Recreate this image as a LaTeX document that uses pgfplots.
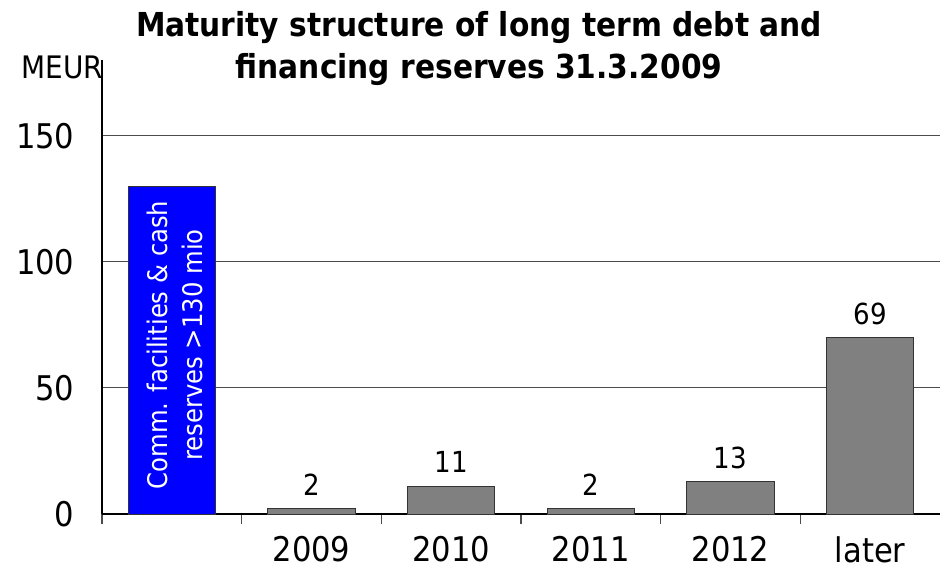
\documentclass[border=0pt]{standalone}
\usepackage{pgfplots}
\pgfplotsset{compat=1.18}
\usepackage{fontspec}
\setmainfont{DejaVu Sans Condensed}
\definecolor{barblue}{RGB}{0,0,255}
\definecolor{bargray}{RGB}{128,128,128}
\begin{document}
\begin{tikzpicture}
\begin{axis}[
  name=ax,
  scale only axis, width=419pt, height=227pt,
  xmin=-0.5, xmax=5.5, ymin=0, ymax=180,
  axis x line*=bottom, axis y line*=left,
  axis line style={-, black, line width=0.6pt},
  ybar, bar width=43.5pt,
  xtick={0,...,5}, xticklabels={,2009,2010,2011,2012,later},
  major x tick style={draw=none},
  minor xtick={-0.5,0.5,1.5,2.5,3.5,4.5},
  minor tick length=5pt, tick align=outside,
  minor x tick style={black!70, line width=0.6pt},
  ytick={0,50,100,150},
  major y tick style={draw=none},
  ymajorgrids, grid style={black!70, line width=0.6pt},
  /pgf/number format/assume math mode=true,
  ticklabel style={font=\fontsize{17}{20}\selectfont},
  yticklabel style={xshift=-6pt},
  xticklabel style={yshift=-3.5pt},
  clip=false,
]
\addplot[bar shift=0pt, fill=barblue, draw=black!80, line width=0.5pt] coordinates {(0,130)};
\addplot[bar shift=0pt, fill=bargray, draw=black!80, line width=0.5pt,
  nodes near coords, point meta=explicit symbolic,
  nodes near coords style={font=\fontsize{14.5}{16}\selectfont, black, yshift=3pt}]
  coordinates {(1,2.3)[2] (2,11.1)[11] (3,2.3)[2] (4,12.7)[13] (5,69.8)[69]};
\node[rotate=90, text=white, align=center, font=\fontsize{13.5}{17.5}\selectfont] at (axis cs:0.02,67) {Comm. facilities \& cash\\reserves >130 mio};
\node[anchor=base, font=\bfseries\fontsize{16.5}{20}\selectfont] at (axis cs:2.2,189.5) {Maturity structure of long term debt and};
\node[anchor=base, font=\bfseries\fontsize{16.5}{20}\selectfont] at (axis cs:2.2,172.5) {financing reserves 31.3.2009};
\node[anchor=base east, inner sep=0pt, font=\fontsize{15.5}{18}\selectfont] at (axis cs:-0.49,172.5) {MEUR};
\end{axis}
\pgfresetboundingbox
\path[use as bounding box] (ax.south west) ++(-51pt,-27.5pt) rectangle ++(470pt,284.5pt);
\end{tikzpicture}
\end{document}
